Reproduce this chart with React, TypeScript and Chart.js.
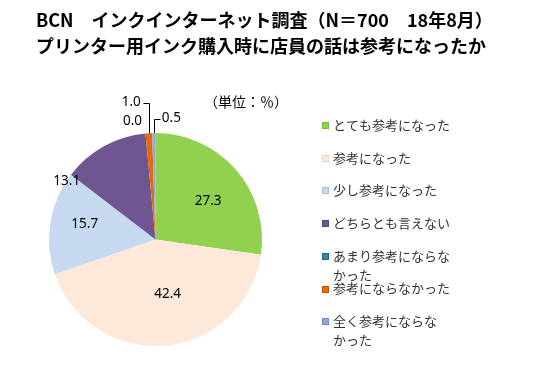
import React, { useEffect, useRef } from "react";
import { Chart, registerables } from "chart.js";

Chart.register(...registerables);

const titleLines = [
  "BCN　インクインターネット調査（N＝700　18年8月）",
  "プリンター用インク購入時に店員の話は参考になったか",
];
const unitLabel = "（単位:%）";

const categories = [
  "とても参考になった",
  "参考になった",
  "少し参考になった",
  "どちらとも言えない",
  "あまり参考にならなかった",
  "参考にならなかった",
  "全く参考にならなかった",
];
const legendLabels = [
  ["とても参考になった"],
  ["参考になった"],
  ["少し参考になった"],
  ["どちらとも言えない"],
  ["あまり参考にならな", "かった"],
  ["参考にならなかった"],
  ["全く参考にならな", "かった"],
];
const values = [27.3, 42.4, 15.7, 13.1, 0.0, 1.0, 0.5];
const colors = ["#92D050", "#FDE9D9", "#C6D9F1", "#6F5592", "#31859C", "#E46C0A", "#8EA9DB"];
const markerBorders = ["#7DB83E", "#F0D0BC", "#A9C0E0", "#55407A", "#23697C", "#C05808", "#6F8CC0"];

// label placement: polar relative to slice midpoint, or leader lines
type LabelSpec =
  | { mode: "polar"; f: number; da: number }
  | { mode: "leader"; rise: number; run: number };
const labelSpecs: LabelSpec[] = [
  { mode: "polar", f: 0.61, da: 5 },
  { mode: "polar", f: 0.53, da: -7 },
  { mode: "polar", f: 0.68, da: 3 },
  { mode: "polar", f: 1.0, da: -27.5 },
  { mode: "polar", f: 1.13, da: -5.6 },
  { mode: "leader", rise: 30, run: -6 },
  { mode: "leader", rise: 14, run: 6 },
];

const labelFont = '13.5px "Noto Sans", "DejaVu Sans", sans-serif';
const legendFont = '13px "Noto Sans CJK JP", sans-serif';

const dataLabelPlugin = {
  id: "dataLabels",
  afterDatasetsDraw(chart: any) {
    const ctx = chart.ctx;
    const meta = chart.getDatasetMeta(0);
    ctx.save();
    ctx.font = labelFont;
    ctx.fillStyle = "#000";
    ctx.textBaseline = "middle";
    meta.data.forEach((arc: any, i: number) => {
      const p = arc.getProps(["x", "y", "startAngle", "endAngle", "outerRadius"], true);
      const mid = (p.startAngle + p.endAngle) / 2;
      const spec = labelSpecs[i];
      const text = values[i].toFixed(1);
      if (spec.mode === "polar") {
        const a = mid + (spec.da * Math.PI) / 180;
        const r = p.outerRadius * spec.f;
        ctx.textAlign = "center";
        ctx.fillText(text, p.x + Math.cos(a) * r, p.y + Math.sin(a) * r);
      } else {
        const sx = p.x + Math.cos(mid) * p.outerRadius;
        const sy = p.y + Math.sin(mid) * p.outerRadius;
        const ey = sy - spec.rise;
        const ex = sx + spec.run;
        ctx.strokeStyle = "#000";
        ctx.lineWidth = 1;
        ctx.beginPath();
        ctx.moveTo(Math.round(sx) + 0.5, sy);
        ctx.lineTo(Math.round(sx) + 0.5, Math.round(ey) + 0.5);
        ctx.lineTo(Math.round(ex) + 0.5, Math.round(ey) + 0.5);
        ctx.stroke();
        ctx.textAlign = spec.run < 0 ? "right" : "left";
        ctx.fillText(text, ex + (spec.run < 0 ? -2 : 2), ey - 1);
      }
    });
    ctx.restore();
  },
};

const legendPlugin = {
  id: "customLegend",
  afterDraw(chart: any) {
    const ctx = chart.ctx;
    const x0 = 322;
    const y0 = 125;
    const step = 32.7;
    ctx.save();
    ctx.font = legendFont;
    ctx.textBaseline = "middle";
    ctx.textAlign = "left";
    legendLabels.forEach((lines, i) => {
      const yc = y0 + i * step;
      ctx.fillStyle = colors[i];
      ctx.fillRect(x0, Math.round(yc) - 3, 7, 7);
      ctx.strokeStyle = markerBorders[i];
      ctx.lineWidth = 1;
      ctx.strokeRect(x0 + 0.5, Math.round(yc) - 2.5, 6, 6);
      ctx.fillStyle = "#333";
      lines.forEach((ln, j) => ctx.fillText(ln, x0 + 11, yc + j * 19));
    });
    ctx.restore();
  },
};

export default function App() {
  const ref = useRef<HTMLCanvasElement | null>(null);
  useEffect(() => {
    if (!ref.current) return;
    const chart = new Chart(ref.current, {
      type: "pie",
      data: {
        labels: categories,
        datasets: [
          {
            data: values,
            backgroundColor: colors,
            borderWidth: 0,
          },
        ],
      },
      options: {
        animation: false,
        responsive: false,
        layout: { padding: { left: 49, right: 288, top: 133, bottom: 23 } },
        plugins: {
          legend: { display: false },
          tooltip: { enabled: false },
          title: { display: false },
        },
      },
      plugins: [dataLabelPlugin, legendPlugin],
    });
    return () => chart.destroy();
  }, []);

  return (
    <div style={{ position: "fixed", left: 0, top: 0, width: 550, height: 369, background: "#fff", overflow: "hidden" }}>
      <canvas ref={ref} width={550} height={369} style={{ position: "absolute", left: 0, top: 0 }} />
      <div
        style={{
          position: "absolute",
          left: 36,
          top: 6,
          fontFamily: '"Noto Sans CJK JP", sans-serif',
          fontSize: 18,
          fontWeight: "bold",
          lineHeight: "26px",
          color: "#000",
          whiteSpace: "nowrap",
        }}
      >
        {titleLines.map((t, i) => (
          <div key={i}>{t}</div>
        ))}
      </div>
      <div
        style={{
          position: "absolute",
          left: 204,
          top: 91,
          fontFamily: '"Noto Sans CJK JP", sans-serif',
          fontSize: 14,
          lineHeight: "20px",
          color: "#000",
          whiteSpace: "nowrap",
          fontFeatureSettings: '"fwid" 1',
        }}
      >
        {unitLabel}
      </div>
    </div>
  );
}
